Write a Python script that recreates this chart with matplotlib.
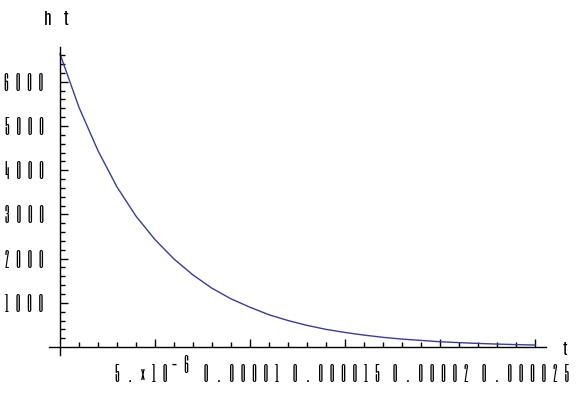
import numpy as np
import matplotlib
matplotlib.use('Agg')
import matplotlib.pyplot as plt
from matplotlib.transforms import offset_copy

# values (t in seconds, h)
t_vals = np.array([0, 1, 2, 3, 4, 5, 6, 7, 8, 9, 10, 11, 12, 13, 14, 15,
                   16, 17, 18, 19, 20, 21, 22, 23, 24, 25]) * 1e-6
h_vals = [6630, 5420, 4440, 3620, 2960, 2430, 1990, 1630, 1330, 1090, 900,
          730, 600, 490, 400, 330, 270, 220, 180, 150, 120, 100, 82, 67, 55, 45]


def spaced(s):
    # Mathematica-style wide letter spacing, the dot gets a bit more room
    return '   '.join(s).replace('   .   ', '    .    ')


x_ticks = [5e-6, 1e-5, 1.5e-5, 2e-5, 2.5e-5]
x_labels = [spaced('5.×10'), spaced('0.00001'), spaced('0.000015'),
            spaced('0.00002'), spaced('0.000025')]
x_sup = spaced('−6')
y_ticks = [1000, 2000, 3000, 4000, 5000, 6000]
y_labels = [spaced(str(v)) for v in y_ticks]

fnt = ['Six Caps', 'DejaVu Sans']
fnt2 = ['Antonio', 'DejaVu Sans']
fs = 15

fig = plt.figure(figsize=(5.87, 3.94), dpi=100)
W, H = 587, 394
# axes from x=49..546 px, y=47..355 px
ax = fig.add_axes([49/W, 1 - 355/H, (546-49)/W, (355-47)/H])

ax.plot(t_vals, h_vals, color='#3b3b9a', lw=1.0)

ax.set_xlim(-0.58e-6, 2.558e-5)
ax.set_ylim(-180, 6787)

for s in ['top', 'right']:
    ax.spines[s].set_visible(False)
ax.spines['left'].set_position(('data', 0))
ax.spines['bottom'].set_position(('data', 0))
for s in ['left', 'bottom']:
    ax.spines[s].set_linewidth(1.0)

ax.set_xticks(x_ticks)
ax.set_xticks(np.arange(1, 26) * 1e-6, minor=True)
ax.set_xticklabels([])
ax.set_yticks(y_ticks)
ax.set_yticks(np.arange(200, 6800, 200), minor=True)
ax.set_yticklabels(y_labels, family=fnt, fontsize=fs)

ax.tick_params(axis='both', which='major', direction='in', length=5.5, width=1, color='black')
ax.tick_params(axis='both', which='minor', direction='in', length=3.5, width=1, color='black')
ax.tick_params(axis='y', pad=12)

# x tick labels drawn below the axis, slightly left of their ticks
y_base = -(382 - 347) * 1000 / 44.2
trans = offset_copy(ax.transData, fig=fig, x=-9, y=0, units='dots')
for xt, lab in zip(x_ticks[1:], x_labels[1:]):
    ax.text(xt, y_base, lab, transform=trans, ha='center', va='baseline',
            family=fnt, fontsize=fs, clip_on=False)
t_first = offset_copy(ax.transData, fig=fig, x=12, y=0, units='dots')
ax.text(x_ticks[0], y_base, x_labels[0], transform=t_first, ha='right', va='baseline',
        family=fnt, fontsize=fs, clip_on=False)
t_sup = offset_copy(ax.transData, fig=fig, x=17, y=9, units='dots')
ax.text(x_ticks[0], y_base, x_sup, transform=t_sup, ha='left', va='baseline',
        family=fnt, fontsize=fs, clip_on=False)

fig.text(565/W, 1 - 355/H, 't', family=fnt2, fontsize=11, ha='center', va='baseline')
fig.text(56/W, 1 - 25/H, 'h   t', family=fnt2, fontsize=12, ha='center', va='baseline')

fig.savefig('out.png', dpi=100)
